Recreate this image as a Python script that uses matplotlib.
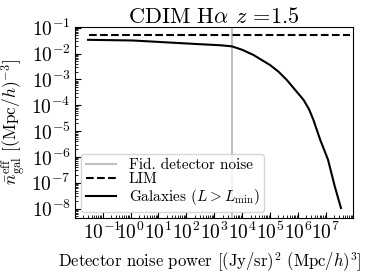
import numpy as np
import matplotlib
matplotlib.use('Agg')
import matplotlib.pyplot as plt
from matplotlib.ticker import LogLocator, NullFormatter

#### Data ####

noise_power = [0.03, 1.2, 300, 1600, 4300, 1e4, 2.5e4, 1e5, 2e5, 4e5, 1.6e6,
               2.5e6, 3.6e6, 6.3e6, 1.2e7, 2.1e7, 3.5e7]
n_gal = [0.034, 0.032, 0.023, 0.021, 0.019, 0.014, 0.0089, 0.0036, 0.002,
         9.5e-4, 1.6e-4, 7e-5, 2.7e-5, 4.6e-6, 7.8e-7, 7.2e-8, 1.05e-8]

lim_x = [0.032, 7.4e7]
lim_level = 0.05

fid_noise = 4300

####################

plt.rcParams['font.family'] = 'serif'
plt.rcParams['font.serif'] = ['cmr10']
plt.rcParams['mathtext.fontset'] = 'cm'
plt.rcParams['axes.formatter.use_mathtext'] = True

fig = plt.figure(figsize=(3.79, 2.72), dpi=100)
ax = fig.add_axes([0.198, 0.199, 0.733, 0.702])

ax.axvline(fid_noise, color='silver', lw=1.5, label='Fid. detector noise')
ax.plot(lim_x, [lim_level, lim_level], 'k--', lw=1.5, label='LIM')
ax.plot(noise_power, n_gal, 'k-', lw=1.5, label=r'Galaxies ($L>L_{\rm min}$)')

ax.set_xscale('log')
ax.set_yscale('log')
ax.set_xlim(10**-1.99, 10**7.97)
ax.set_ylim(10**-8.36, 10**-0.97)
ax.set_xticks([10.0**k for k in range(-1, 8)])
ax.set_yticks([10.0**k for k in range(-8, 0)])
for axis in [ax.xaxis, ax.yaxis]:
    axis.set_minor_locator(LogLocator(base=10, subs=np.arange(2, 10), numticks=100))
    axis.set_minor_formatter(NullFormatter())
ax.tick_params(which='both', direction='in', labelsize=14)
ax.tick_params(which='major', length=4, pad=3)
ax.tick_params(which='minor', length=2)

ax.set_title(r'CDIM H$\alpha$ $z$ =1.5', fontsize=16, pad=3)
ax.set_xlabel(r'Detector noise power [(Jy/sr)$^2$ (Mpc/$h$)$^3$]', fontsize=12)
ax.xaxis.set_label_coords(0.485, -0.17)
ax.set_ylabel(r'$\bar{n}_{\rm gal}^{\rm eff}$ [(Mpc/$h$)$^{-3}$]', fontsize=12.5)
ax.yaxis.set_label_coords(-0.17, 0.5)

ax.legend(loc='lower left', fontsize=11, handlelength=2, borderpad=0.3,
          labelspacing=0.05, borderaxespad=0.4)

fig.savefig('out.png', dpi=100)
